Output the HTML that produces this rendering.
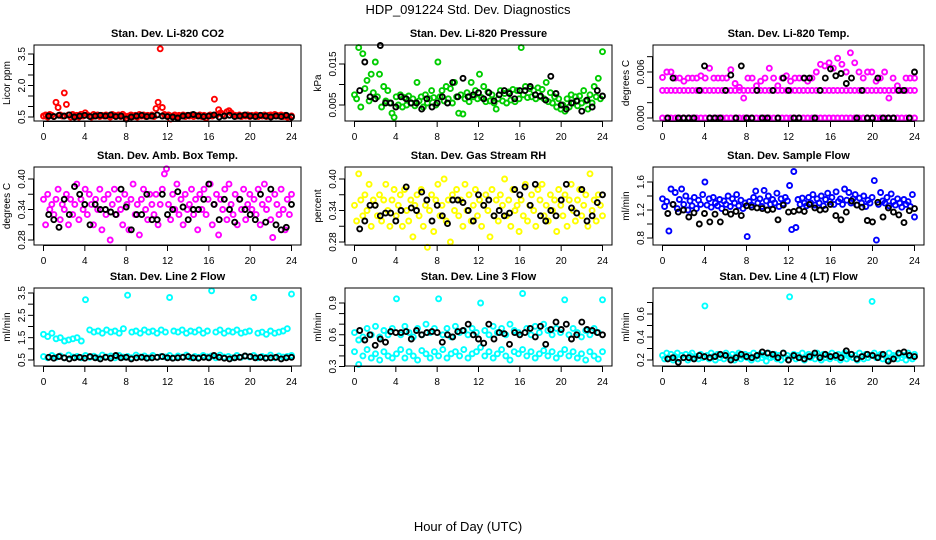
<!DOCTYPE html>
<html><head><meta charset="utf-8">
<style>
html,body{margin:0;padding:0;background:#fff;}
svg{display:block;font-family:"Liberation Sans",Arial,sans-serif;}
</style></head>
<body>
<svg id="chart" width="936" height="540" viewBox="0 0 936 540" xmlns="http://www.w3.org/2000/svg">
<rect x="0" y="0" width="936" height="540" fill="#fff"/>
<text x="468" y="14" text-anchor="middle" font-size="13">HDP_091224  Std. Dev. Diagnostics</text>
<text x="468" y="531" text-anchor="middle" font-size="13">Hour of Day (UTC)</text>
</svg>
<script>
// ---- data ----
const xTicks = [0,4,8,12,16,20,24];
const co2Color = [.55,.6,.5,.62,.58,.52,1.2,.95,.6,.55, 1.65,1.1,.6,.5,.62,.55,.58,.5,.63,.55, .7,.6,.55,.5,.62,.55,.6,.52,.58,.55, .6,.55,.5,.62,.58,.55,.6,.52,.63,.55, .45,.55,.6,.52,.58,.5,.62,.55,.6,.52, .58,.55,.6,.52,.9,1.2,3.75,.95,.62,.55, .6,.4,.55,.6,.52,.58,.55,.6,.52,.58, .55,.6,.52,.58,.55,.6,.52,.58,.45,.55, .6,.55,1.35,.6,.85,.7,.62,.55,.75,.8, .7,.6,.58,.55,.6,.52,.58,.55,.6,.52, .58,.55,.6,.52,.58,.55,.6,.52,.58,.6, .55,.62,.58,.55,.6,.52,.58,.5,.42,.55];
const co2Black = [.55,.52,.58,.55,.6,.5,.55,.58,.52,.55, .58,.55,.6,.52,.55,.4,.5,.55,.58,.52, .55,.6,.55,.52,.5,.45,.55,.58,.62,.55, .52,.55,.6,.5,.55,.58,.52,.55,.6,.55, .52,.58,.55,.5,.55,.52,.58,.5];
const presColor = [.0075,.0065,.019,.0045,.0175,.009,.011,.006,.0125,.008, .0155,.007,.0125,.0045,.0095,.006,.0085,.0055,.003,.002, .007,.005,.0075,.0045,.0068,.005,.0072,.0055,.0065,.0048, .0105,.006,.007,.0045,.0075,.0055,.0065,.0085,.0068,.005, .0155,.007,.0085,.006,.0095,.0065,.009,.0055,.0105,.007, .003,.0075,.0028,.0065,.008,.0058,.0105,.007,.0085,.0065, .0125,.0068,.0095,.0058,.0082,.006,.0075,.0055,.004,.0065, .0085,.006,.0078,.0055,.0082,.0062,.0088,.0058,.0085,.0065, .019,.0075,.0095,.0068,.009,.007,.0085,.0065,.0092,.007, .0088,.0065,.0105,.0058,.008,.0055,.007,.0045,.0065,.004, .005,.0035,.0065,.0045,.0075,.0055,.007,.0048,.0072,.0055, .0085,.006,.004,.0075,.0055,.0095,.007,.0115,.0065,.018];
const presBlack = [.0085,.0155,.007,.0065,.0195,.0055,.0055,.0045,.007,.0065, .0055,.0055,.004,.0065,.0045,.0055,.007,.0055,.0105,.007, .0115,.007,.0075,.008,.0065,.008,.006,.0075,.0085,.0078, .0065,.0085,.0085,.0095,.0075,.0072,.0062,.012,.0078,.005, .004,.0055,.006,.0035,.0062,.0045,.0085,.0072];
const tempZero = [0,0,0,0,0,0,0,0,0,0,0,0,0,0,0,0,0,0,0,0,0,0,0,0,0,0,0,0,0,0,0,0,0,0,0,0,0,0,0,0,0,0,0,0,0,0,0,0,0,0,0,0,0,0,0,0,0,0,0,0];
const tempLevel = [.0036,.0036,.0036,.0036,.0036,.0036,.0036,.0036,.0036,.0036,.0036,.0036,.0036,.0036,.0036,.0036,.0036,.0036,.0036,.0036,.0036,.0036,.0036,.0036,.0036,.0036,.0036,.0036,.0036,.0036,.0036,.0036,.0036,.0036,.0036,.0036,.0036,.0036,.0036,.0036,.0036,.0036,.0036,.0036,.0036,.0036,.0036,.0036,.0036,.0036,.0036,.0036,.0036,.0036,.0036,.0036,.0036,.0036,.0036,.0036];
const tempScatter = [.0053,.006,.006,.0052,.0052,.0048,.0052,.0052,.0052,.0055, .0052,.0065,.0052,.0052,.0052,.0052,.0063,.0045,.004,.0026, .0052,.0052,.0042,.0048,.0052,.0065,.0052,.0042,.0052,.0055, .0048,.0052,.0052,.0052,.0048,.0052,.006,.007,.0068,.0072, .0065,.0078,.007,.006,.0085,.0072,.006,.0052,.006,.006, .0048,.0052,.006,.0026,.0052,.0042,.0036,.0052,.0052,.0052];
const tempBlack = [0,.0052,0,0,0,0,.0036,.0068,0,0, 0,.0036,.0056,0,.0068,0,0,.0036,0,0, .0036,0,.0052,.0036,0,0,.0052,.0052,0,.0036, .0052,.0064,.0055,.0058,.0045,.0052,0,.0036,0,0, .0052,0,0,0,.0036,.0036,0,.006];
const boxColor = [.36,.31,.37,.34,.35,.33,.36,.38,.32,.35, .34,.37,.31,.36,.33,.35,.39,.32,.36,.34, .38,.33,.37,.35,.31,.36,.34,.38,.30,.36, .33,.37,.28,.35,.38,.33,.36,.34,.31,.37, .35,.30,.36,.39,.33,.35,.29,.36,.38,.34, .32,.37,.35,.33,.37,.31,.35,.38,.41,.42, .35,.32,.37,.34,.39,.33,.36,.31,.37,.34, .35,.38,.33,.36,.30,.37,.34,.38,.33,.36, .39,.31,.35,.37,.29,.36,.34,.38,.32,.39, .35,.33,.37,.31,.36,.34,.38,.32,.35,.37, .34,.36,.33,.38,.31,.35,.39,.34,.36,.32, .285,.37,.35,.33,.38,.34,.30,.36,.33,.37];
const boxBlack = [.33,.32,.305,.36,.33,.385,.37,.35,.31,.35, .34,.34,.335,.33,.38,.345,.30,.33,.33,.37, .32,.32,.37,.33,.34,.375,.345,.32,.34,.34, .36,.39,.35,.32,.36,.34,.315,.36,.34,.33, .32,.37,.315,.38,.31,.30,.305,.35];
const rhColor = [.35,.32,.41,.36,.33,.37,.34,.39,.31,.36, .35,.33,.37,.32,.36,.39,.34,.31,.36,.38, .33,.35,.37,.31,.38,.34,.32,.36,.29,.35, .37,.33,.38,.31,.35,.27,.34,.37,.30,.36, .39,.33,.35,.40,.32,.36,.28,.37,.34,.38, .33,.36,.31,.39,.34,.37,.32,.35,.38,.33, .36,.31,.35,.37,.34,.29,.38,.33,.36,.32, .37,.35,.40,.33,.36,.31,.38,.34,.35,.30, .36,.33,.39,.32,.35,.37,.34,.31,.38,.36, .39,.33,.35,.32,.37,.34,.36,.30,.38,.35, .33,.37,.31,.36,.39,.34,.32,.36,.38,.33, .35,.37,.31,.41,.34,.36,.32,.37,.35,.33];
const rhBlack = [.305,.32,.35,.35,.33,.335,.335,.32,.34,.385, .345,.34,.375,.36,.32,.35,.33,.315,.36,.36, .355,.34,.32,.37,.35,.36,.33,.34,.33,.335, .38,.37,.385,.35,.39,.33,.32,.34,.33,.36, .39,.345,.335,.38,.32,.33,.355,.37];
const flowColor = [1.36,1.25,1.32,.9,1.5,1.28,1.45,1.22,1.35,1.5, 1.28,1.4,1.2,1.33,1.26,1.38,1.22,1.34,1.28,1.42, 1.6,1.27,1.36,1.24,1.38,1.3,1.26,1.35,1.22,1.33, 1.28,1.4,1.25,1.36,1.3,1.42,1.26,1.34,1.22,1.3, .82,1.32,1.27,1.38,1.47,1.3,1.36,1.25,1.48,1.33, 1.4,1.28,1.35,1.3,1.44,1.25,1.36,1.29,1.38,1.33, 1.55,.92,1.75,.95,1.35,1.28,1.37,1.3,1.26,1.38, 1.3,1.42,1.27,1.36,1.3,1.4,1.26,1.35,1.44,1.32, 1.38,1.28,1.46,1.32,1.36,1.28,1.5,1.34,1.45,1.3, 1.36,1.42,1.27,1.37,1.3,1.4,1.25,1.34,1.3,1.38, 1.62,.77,1.28,1.45,1.33,1.3,1.38,1.26,1.43,1.32, 1.27,1.36,1.3,1.24,1.35,1.28,1.32,1.25,1.42,1.1];
const flowBlack = [1.15,1.28,1.17,1.2,1.1,1.16,1.0,1.15,1.03,1.14, 1.03,1.17,1.14,1.18,1.12,1.26,1.24,1.23,1.22,1.2, 1.21,1.06,1.27,1.17,1.18,1.2,1.18,1.28,1.23,1.2, 1.21,1.28,1.12,1.06,1.17,1.33,1.27,1.24,1.05,1.03, 1.31,1.1,1.23,1.17,1.13,1.02,1.19,1.22];
const line2Upper = [1.65,1.55,1.7,1.45,1.5,1.35,1.4,1.45,1.5,1.35, 3.2,1.85,1.75,1.8,1.7,1.85,1.75,1.8,1.7,1.9, 3.4,1.75,1.8,1.7,1.85,1.75,1.8,1.7,1.85,1.75, 3.3,1.8,1.75,1.85,1.7,1.8,1.75,1.85,1.7,1.8, 3.6,1.75,1.85,1.7,1.8,1.75,1.85,1.7,1.75,1.8, 3.3,1.7,1.75,1.65,1.8,1.7,1.75,1.8,1.9,3.45];
const line2Lower = [.65,.6,.7,.62,.68,.6,.72,.63,.66,.6, .7,.62,.67,.6,.72,.64,.68,.6,.7,.63, .66,.6,.72,.64,.68,.6,.7,.62,.66,.64, .7,.6,.68,.63,.72,.6,.66,.62,.7,.64, .68,.6,.72,.63,.66,.6,.7,.62,.68,.64, .7,.6,.66,.62,.72,.6,.68,.63,.66,.7];
const line2Black = [.62,.58,.65,.6,.55,.6,.62,.58,.65,.6, .55,.62,.58,.7,.6,.62,.55,.6,.62,.58, .6,.62,.65,.6,.58,.6,.62,.65,.6,.58, .62,.6,.7,.62,.58,.55,.6,.62,.68,.65, .6,.62,.58,.6,.62,.55,.6,.62];
const line3Upper = [.62,.55,.58,.66,.6,.68,.58,.64,.6,.66, .94,.6,.68,.62,.58,.66,.6,.7,.62,.66, .94,.6,.66,.58,.68,.62,.64,.6,.66,.62, .9,.64,.6,.68,.62,.66,.6,.7,.64,.62, .99,.66,.6,.68,.62,.7,.64,.6,.66,.62, .93,.6,.66,.62,.58,.64,.6,.66,.62,.93];
const line3Lower = [.44,.32,.4,.46,.38,.42,.36,.44,.4,.38, .42,.46,.38,.44,.4,.36,.45,.42,.38,.44, .4,.46,.38,.42,.44,.4,.46,.38,.42,.44, .48,.4,.44,.38,.42,.46,.4,.36,.44,.42, .46,.4,.44,.38,.42,.45,.4,.44,.38,.42, .46,.4,.44,.38,.42,.36,.44,.4,.37,.44];
const line3Black = [.64,.55,.6,.5,.56,.53,.63,.62,.62,.63, .56,.64,.6,.62,.63,.62,.53,.6,.58,.63, .64,.7,.6,.56,.52,.7,.56,.62,.61,.51, .62,.6,.62,.66,.58,.68,.51,.65,.72,.65, .7,.56,.6,.72,.65,.64,.62,.6];
const line4Color = [.24,.21,.26,.22,.25,.2,.23,.26,.21,.24, .22,.25,.2,.24,.26,.22,.23,.21,.25,.22, .67,.24,.21,.26,.23,.2,.25,.22,.24,.21, .26,.23,.22,.25,.2,.24,.26,.21,.23,.25, .22,.24,.2,.26,.23,.21,.25,.22,.24,.19, .26,.22,.23,.25,.21,.24,.2,.26,.22,.24, .75,.23,.25,.21,.24,.22,.26,.2,.23,.25, .22,.24,.21,.26,.23,.2,.25,.22,.24,.21, .26,.23,.22,.25,.2,.24,.26,.21,.23,.25, .22,.24,.2,.26,.23,.21,.25,.22,.24,.71, .26,.22,.23,.25,.21,.24,.2,.26,.22,.24, .23,.21,.25,.22,.24,.2,.26,.23,.21,.25];
const line4Black = [.21,.22,.18,.22,.22,.21,.24,.23,.22,.23, .25,.24,.2,.22,.25,.23,.22,.24,.27,.26, .25,.22,.26,.2,.24,.22,.21,.23,.26,.22, .25,.23,.24,.22,.28,.25,.21,.23,.25,.24, .22,.25,.19,.21,.26,.27,.24,.23];

// ---- layout (not data) ----
const NS = "http://www.w3.org/2000/svg";
const svg = document.getElementById('chart');
const colL = [34,345,653], colR = [301,612,924];
const rowT = [45,167,288], rowB = [121,245,366];
function mk(tag, attrs, parent){
  const e = document.createElementNS(NS, tag);
  for (const k in attrs) e.setAttribute(k, attrs[k]);
  (parent||svg).appendChild(e); return e;
}
const panels = [
 {name:'co2', title:'Stan. Dev. Li-820 CO2', ylab:'Licor ppm', c:0,r:0, ticks:[.5,1,1.5,2,2.5,3,3.5], labels:[[.5,'0.5'],[2,'2.0'],[3.5,'3.5']], a:[.5,117,3.5,54], color:'#ff0000', series:[co2Color], black:co2Black},
 {name:'pressure', title:'Stan. Dev. Li-820 Pressure', ylab:'kPa', c:1,r:0, ticks:[.005,.01,.015], labels:[[.005,'0.005'],[.015,'0.015']], a:[.005,105,.015,64], color:'#00cd00', series:[presColor], black:presBlack},
 {name:'licor-temp', title:'Stan. Dev. Li-820 Temp.', ylab:'degrees C', c:2,r:0, ticks:[0,.002,.004,.006,.008], labels:[[0,'0.000'],[.006,'0.006']], a:[0,118,.006,72], color:'#ff00ff', series:[tempZero,tempLevel,tempScatter], black:tempBlack},
 {name:'box-temp', title:'Stan. Dev. Amb. Box Temp.', ylab:'degrees C', c:0,r:1, ticks:[.28,.31,.34,.37,.40], labels:[[.28,'0.28'],[.34,'0.34'],[.40,'0.40']], a:[.28,240,.40,179], color:'#ff00ff', series:[boxColor], black:boxBlack},
 {name:'gas-rh', title:'Stan. Dev. Gas Stream RH', ylab:'percent', c:1,r:1, ticks:[.28,.31,.34,.37,.40], labels:[[.28,'0.28'],[.34,'0.34'],[.40,'0.40']], a:[.28,242,.40,179], color:'#ffff00', series:[rhColor], black:rhBlack},
 {name:'sample-flow', title:'Stan. Dev. Sample Flow', ylab:'ml/min', c:2,r:1, ticks:[.8,1,1.2,1.4,1.6], labels:[[.8,'0.8'],[1.2,'1.2'],[1.6,'1.6']], a:[.8,238,1.6,182], color:'#0000ff', series:[flowColor], black:flowBlack},
 {name:'line2-flow', title:'Stan. Dev. Line 2 Flow', ylab:'ml/min', c:0,r:2, ticks:[.5,1,1.5,2,2.5,3,3.5], labels:[[.5,'0.5'],[1.5,'1.5'],[2.5,'2.5'],[3.5,'3.5']], a:[.5,360,3.5,293], color:'#00ffff', series:[line2Upper,line2Lower], black:line2Black},
 {name:'line3-flow', title:'Stan. Dev. Line 3 Flow', ylab:'ml/min', c:1,r:2, ticks:[.3,.4,.5,.6,.7,.8,.9], labels:[[.3,'0.3'],[.6,'0.6'],[.9,'0.9']], a:[.3,366.5,.9,303], color:'#00ffff', series:[line3Upper,line3Lower], black:line3Black},
 {name:'line4-flow', title:'Stan. Dev. Line 4 (LT) Flow', ylab:'ml/min', c:2,r:2, ticks:[.2,.3,.4,.5,.6,.7], labels:[[.2,'0.2'],[.4,'0.4'],[.6,'0.6']], a:[.2,360,.6,314], color:'#00ffff', series:[line4Color], black:line4Black}
];
panels.forEach(p=>{
  const L=colL[p.c], R=colR[p.c], T=rowT[p.r], B=rowB[p.r];
  const x0 = L+9.5, xs = (R-L-19)/24;
  const xS = h => x0 + h*xs;
  const yS = v => p.a[1] + (v-p.a[0])*(p.a[3]-p.a[1])/(p.a[2]-p.a[0]);
  const g = mk('g',{});
  
  
  const t = mk('text',{x:(L+R)/2, y:T-8, 'text-anchor':'middle','font-size':11,'font-weight':'bold'}, g);
  t.textContent = p.title;
  
  
  const yl = mk('text',{x:0,y:0,transform:`translate(${L-24},${(T+B)/2}) rotate(-90)`,'text-anchor':'middle','font-size':10}, g);
  yl.textContent = p.ylab;
  
  
  const pts = mk('g',{fill:'none','stroke-width':1.9}, g);
  
  
  p.series.forEach(arr=>{
    const n = arr.length;
    arr.forEach((v,i)=>{
      const h = i*24/(n-1);
      const c = mk('circle',{cx:xS(h).toFixed(1), cy:yS(v).toFixed(1), r:2.5, stroke:p.color}, pts);
      
      
    });
  });
  p.black.forEach((v,i)=>{
    const h = (i+1)*0.5;
    const c = mk('circle',{cx:xS(h).toFixed(1), cy:yS(v).toFixed(1), r:2.5, stroke:'#000'}, pts);
    
    
  });
  const bx = mk('rect',{x:L,y:T,width:R-L,height:B-T,fill:'none',stroke:'#000','stroke-width':1}, g);
  
  
  const xa = mk('g',{stroke:'#000','stroke-width':1}, g);
  
  
  mk('line',{x1:xS(0),x2:xS(24),y1:B+0.5,y2:B+0.5}, xa);
  xTicks.forEach(h=>{
    mk('line',{x1:xS(h),x2:xS(h),y1:B,y2:B+6}, xa);
    const tl = mk('text',{x:xS(h),y:B+19,'text-anchor':'middle','font-size':10,stroke:'none',fill:'#000'}, xa);
    tl.textContent = h;
    
    
  });
  const ya = mk('g',{stroke:'#000','stroke-width':1}, g);
  
  
  mk('line',{x1:L-0.5,x2:L-0.5,y1:yS(p.ticks[0]),y2:yS(p.ticks[p.ticks.length-1])}, ya);
  p.ticks.forEach(v=>{ mk('line',{x1:L-6,x2:L,y1:yS(v),y2:yS(v)}, ya); });
  p.labels.forEach(([v,s])=>{
    const tl = mk('text',{x:0,y:0,transform:`translate(${L-9},${yS(v)}) rotate(-90)`,'text-anchor':'middle','font-size':10,stroke:'none',fill:'#000'}, ya);
    tl.textContent = s;
    
    
  });
});
</script>
</body></html>
